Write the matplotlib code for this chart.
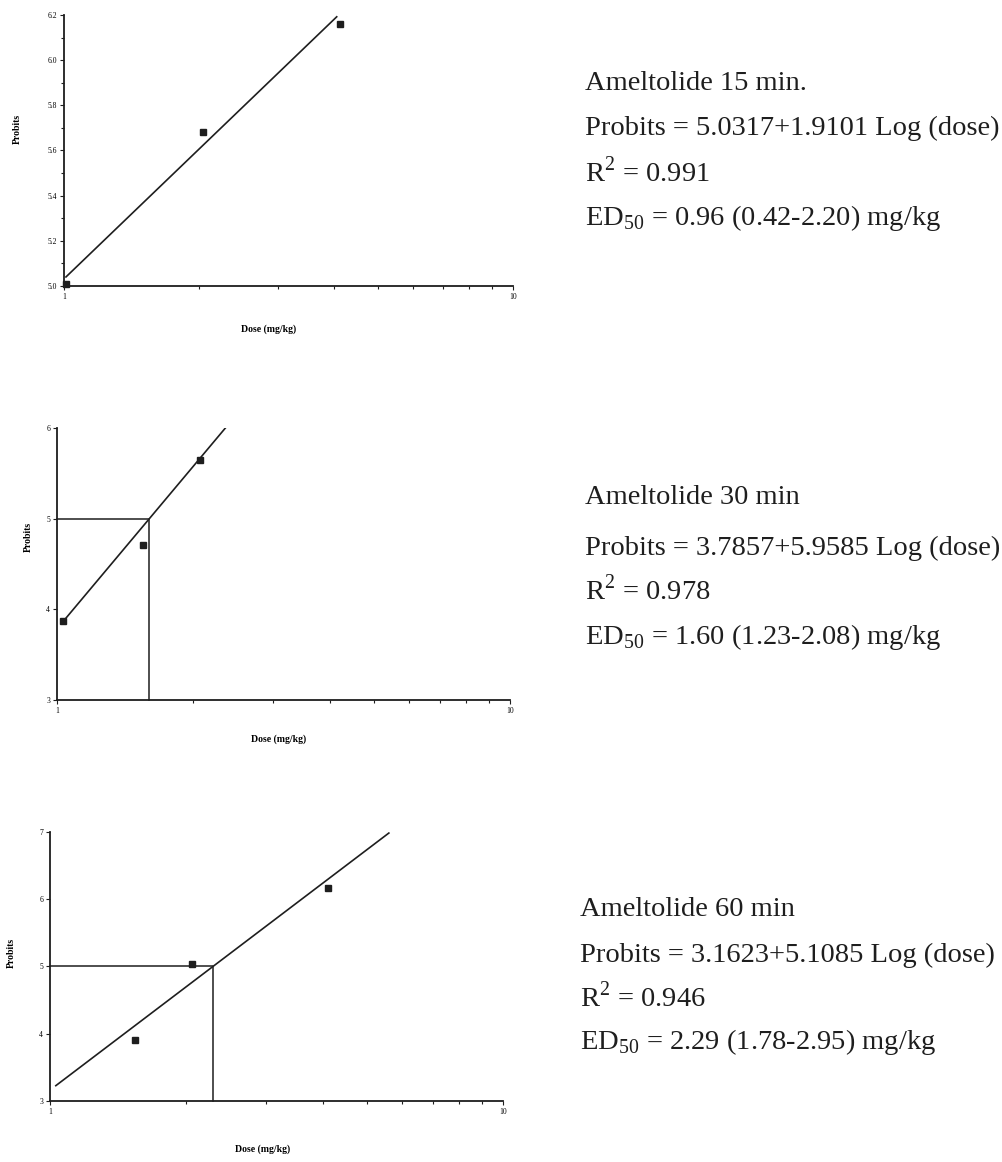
import numpy as np
import matplotlib.pyplot as plt
from matplotlib.ticker import FixedLocator, NullFormatter, LogLocator

plt.rcParams['font.family'] = ['Liberation Serif', 'DejaVu Serif']

# data read from the scanned page
dose15 = [1.01, 2.04, 4.12]
probit15 = [5.01, 5.68, 6.16]
dose30 = [1.03, 1.55, 2.07]
probit30 = [3.87, 4.71, 5.65]
dose60 = [1.54, 2.06, 4.11]
probit60 = [3.91, 5.03, 6.16]

# regression lines: intercept, slope, dose range drawn
fit15 = (5.0317, 1.9101, 1.01, 4.05)
fit30 = (3.7857, 5.9585, 1.03, 2.37)
fit60 = (3.1623, 5.1085, 1.03, 5.6)

ed50_30 = 1.60
ed50_60 = 2.29

text15 = ['Ameltolide 15 min.', 'Probits = 5.0317+1.9101 Log (dose)',
          r'R$^{\mathregular{2}}$ = 0.991', r'ED$_{\mathregular{50}}$ = 0.96 (0.42-2.20) mg/kg']
text30 = ['Ameltolide 30 min', 'Probits = 3.7857+5.9585 Log (dose)',
          r'R$^{\mathregular{2}}$ = 0.978', r'ED$_{\mathregular{50}}$ = 1.60 (1.23-2.08) mg/kg']
text60 = ['Ameltolide 60 min', 'Probits = 3.1623+5.1085 Log (dose)',
          r'R$^{\mathregular{2}}$ = 0.946', r'ED$_{\mathregular{50}}$ = 2.29 (1.78-2.95) mg/kg']

ink = '#1e1e1e'

fig = plt.figure(figsize=(10.02, 11.62), dpi=100)


def panel(rect, dose, probit, fit, yticks, yminor, yfmt, ed50=None,
          xlab=(0.45, -0.16), ylab=(-0.1, 0.5)):
    ax = fig.add_axes(rect)
    ax.set_xscale('log')
    ax.set_xlim(1, 10)
    ax.set_ylim(yticks[0], yticks[-1])
    for s in ['top', 'right']:
        ax.spines[s].set_visible(False)
    for s in ['left', 'bottom']:
        ax.spines[s].set_color(ink)
        ax.spines[s].set_linewidth(1.3)
    ax.xaxis.set_major_locator(FixedLocator([1, 10]))
    ax.xaxis.set_minor_locator(LogLocator(base=10, subs=np.arange(2, 10)))
    ax.xaxis.set_minor_formatter(NullFormatter())
    ax.set_xticklabels(['1', '10'])
    ax.yaxis.set_major_locator(FixedLocator(yticks))
    if yminor:
        ax.yaxis.set_minor_locator(FixedLocator(yminor))
    ax.set_yticklabels([yfmt.format(v) for v in yticks])
    ax.tick_params(which='both', direction='out', length=3, width=0.8, color=ink,
                   labelsize=5.5, pad=2)
    ax.tick_params(which='minor', length=2)

    b0, b1, x0, x1 = fit
    xs = np.array([x0, x1])
    ax.plot(xs, b0 + b1 * np.log10(xs), color=ink, lw=1.2)
    if ed50 is not None:
        ax.plot([1, ed50, ed50], [5, 5, yticks[0]], color=ink, lw=1.1, clip_on=False)
    ax.plot(dose, probit, 's', ms=4, color=ink, mec=ink, clip_on=False)

    ax.set_xlabel('Dose (mg/kg)', fontsize=7, fontweight='bold')
    ax.xaxis.set_label_coords(*xlab)
    ax.set_ylabel('Probits', fontsize=7, fontweight='bold')
    ax.yaxis.set_label_coords(*ylab)
    return ax


panel([0.0639, 0.7539, 0.448, 0.2332], dose15, probit15, fit15,
      [5.0, 5.2, 5.4, 5.6, 5.8, 6.0, 6.2], [5.1, 5.3, 5.5, 5.7, 5.9, 6.1], '{:.1f}',
      xlab=(0.455, -0.14), ylab=(-0.095, 0.58))
panel([0.0569, 0.3976, 0.452, 0.234], dose30, probit30, fit30,
      [3, 4, 5, 6], None, '{:d}', ed50=ed50_30,
      xlab=(0.49, -0.125), ylab=(-0.053, 0.6))
panel([0.0499, 0.0525, 0.452, 0.2315], dose60, probit60, fit60,
      [3, 4, 5, 6, 7], None, '{:d}', ed50=ed50_60,
      xlab=(0.47, -0.16), ylab=(-0.075, 0.55))


def block(x, ys, lines):
    for y, s in zip(ys, lines):
        fig.text(x / 1002, 1 - y / 1162, s, fontsize=20.5, color=ink, va='center', ha='left')


block(585, [84, 128, 172, 218], text15)
block(585, [498, 548, 590, 637], text30)
block(580, [909, 955, 997, 1042], text60)

fig.savefig('out.png', dpi=100)
